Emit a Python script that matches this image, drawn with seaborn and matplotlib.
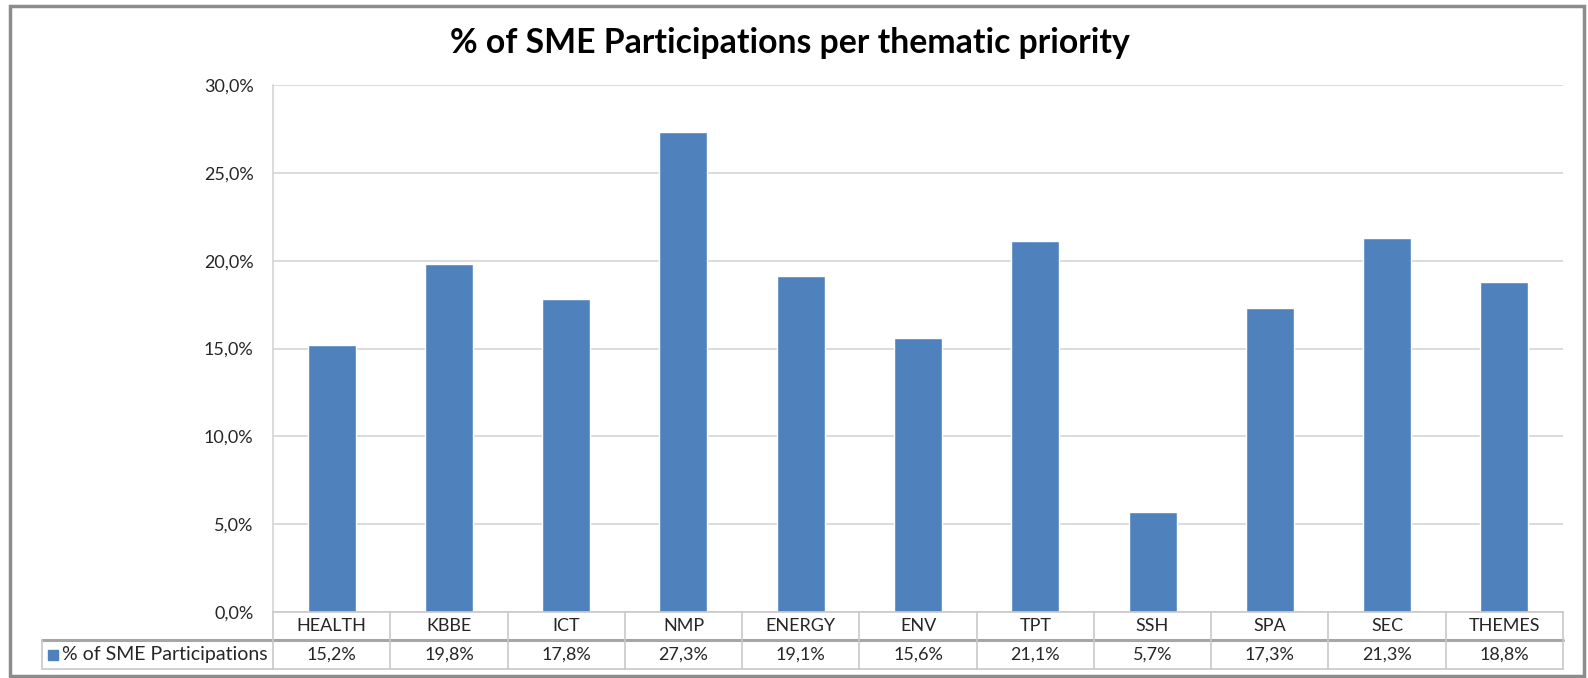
import numpy as np
import pandas as pd
import seaborn as sns
import matplotlib.pyplot as plt
from matplotlib.patches import Rectangle

# data
categories = ["HEALTH", "KBBE", "ICT", "NMP", "ENERGY", "ENV", "TPT", "SSH", "SPA", "SEC", "THEMES"]
shares = [15.2, 19.8, 17.8, 27.3, 19.1, 15.6, 21.1, 5.7, 17.3, 21.3, 18.8]
series_name = "% of SME Participations"
title = "% of SME Participations per thematic priority"

BLUE = "#4F81BD"
GRID = "#D4D4D4"
TXT = "#262626"
FS = 13

sns.set_style("white")
plt.rcParams["font.family"] = ["Lato", "DejaVu Sans"]

W, H = 1588, 678
fig = plt.figure(figsize=(W / 100, H / 100), dpi=100)

# plot area in pixels
left, right, top, bottom = 273, 1563, 85, 612
ax = fig.add_axes([left / W, 1 - bottom / H, (right - left) / W, (bottom - top) / H])

df = pd.DataFrame({"cat": categories, "val": shares})
sns.barplot(data=df, x="cat", y="val", color=BLUE, saturation=1, width=0.41, ax=ax)

ax.set_xlim(-0.5, len(categories) - 0.5)
ax.set_ylim(0, 30)
ax.set_yticks(np.arange(0, 31, 5))
ax.set_yticklabels([f"{v:.1f}%".replace(".", ",") for v in np.arange(0, 31, 5)],
                   fontsize=FS, color=TXT)
ax.tick_params(axis="y", length=0, pad=14)
ax.set_xticks([])
ax.set_xlabel("")
ax.set_ylabel("")
ax.yaxis.grid(True, color=GRID, lw=1.2)
ax.set_axisbelow(True)
for s in ["top", "right"]:
    ax.spines[s].set_visible(False)
ax.spines["left"].set_color(GRID)
ax.spines["left"].set_linewidth(1.2)
ax.spines["bottom"].set_color("#C8C8C8")
ax.spines["bottom"].set_linewidth(1.2)

# data table under the bars
ph = bottom - top
pw = right - left
row1 = -28 / ph
row2 = -57 / ph
tab_left = (42 - left) / pw
xt = ax.get_xaxis_transform()
line_kw = dict(color="#C8C8C8", lw=1.2, clip_on=False)

ax.plot([tab_left, 1], [row1, row1], transform=ax.transAxes, color="#A6A6A6", lw=2.2, clip_on=False)
ax.plot([tab_left, 1], [row2, row2], transform=ax.transAxes, **line_kw)
ax.plot([tab_left, tab_left], [row1, row2], transform=ax.transAxes, **line_kw)
for i in range(len(categories) + 1):
    ax.plot([i - 0.5, i - 0.5], [0, row2], transform=xt, **line_kw)

for i, (c, v) in enumerate(zip(categories, shares)):
    ax.text(i, row1 / 2, c, transform=xt, ha="center", va="center", fontsize=FS, color=TXT)
    ax.text(i, (row1 + row2) / 2, f"{v:.1f}%".replace(".", ","), transform=xt,
            ha="center", va="center", fontsize=FS, color=TXT)

# legend key in the row label cell
ax.add_patch(Rectangle(((48 - left) / pw, (row1 + row2) / 2 - 5 / ph), 10 / pw, 10 / ph,
                       transform=ax.transAxes, color=BLUE, clip_on=False))
ax.text((62 - left) / pw, (row1 + row2) / 2, series_name, transform=ax.transAxes,
        ha="left", va="center", fontsize=FS + 1, color=TXT)

# title and chart frame
fig.text(790 / W, 1 - 43 / H, title, ha="center", va="center",
         fontsize=24.3, fontweight="bold", color="black")
fig.patches.append(Rectangle((10 / W, 2 / H), 1574 / W, 670 / H, transform=fig.transFigure,
                             fill=False, edgecolor="#8C8C8C", lw=2.5))

fig.savefig("out.png", dpi=100)
plt.close(fig)
